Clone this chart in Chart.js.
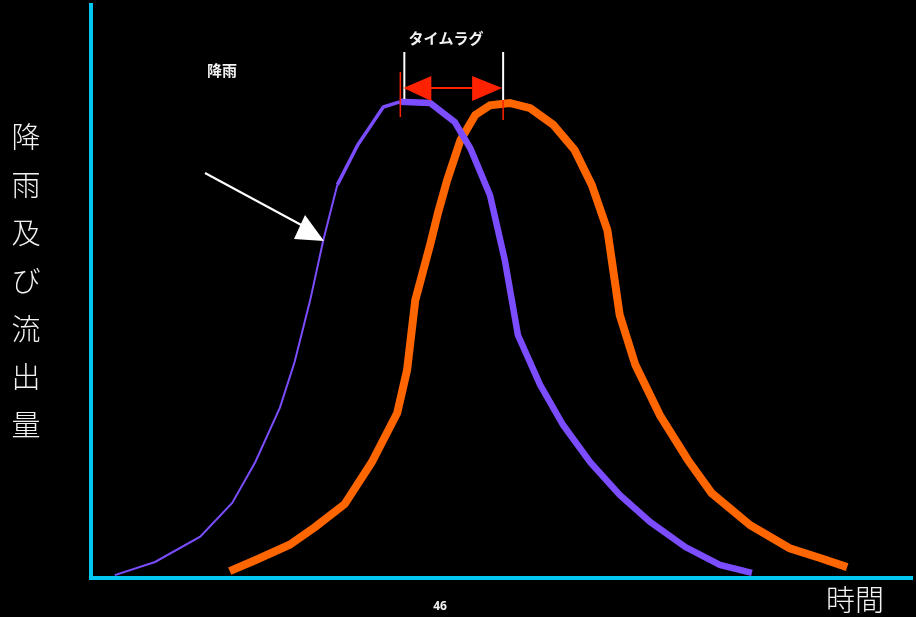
<!DOCTYPE html>
<html>
<head>
<meta charset="utf-8">
<script src="https://cdn.jsdelivr.net/npm/chart.js@4"></script>
<style>
  html, body { margin: 0; padding: 0; background: #000; }
  #wrap { width: 916px; height: 617px; }
</style>
</head>
<body>
<div id="wrap"><canvas id="chart"></canvas></div>
<script>
// Rainfall curve (time, amount)
const rainTime = [2.9, 7.8, 13.3, 17.2, 20.0, 23.0, 24.8, 26.7, 28.3, 30.0, 32.5, 35.6, 37.6, 41.3, 44.3, 46.2, 48.6, 50.4, 52.0, 54.7, 57.5, 60.8, 64.4, 68.1, 72.4, 76.6, 80.5];
const rainAmount = [0.5, 2.8, 7.2, 13.1, 20.2, 29.7, 37.7, 48.5, 59.0, 68.6, 75.6, 82.2, 83.1, 82.9, 79.6, 75.0, 66.8, 55.5, 42.4, 33.7, 26.7, 20.2, 14.5, 9.8, 5.4, 2.3, 0.9];

// Runoff curve (time, amount)
const flowTime = [16.9, 20.0, 24.2, 27.3, 30.9, 34.2, 37.3, 38.5, 39.5, 41.3, 42.3, 43.4, 45.0, 46.8, 48.6, 51.0, 53.5, 56.3, 58.9, 61.0, 62.9, 64.4, 66.3, 69.3, 72.7, 75.6, 80.3, 85.1, 88.8, 92.1];
const flowAmount = [1.2, 3.1, 5.8, 8.9, 12.9, 20.2, 28.8, 36.3, 48.5, 58.1, 63.9, 69.5, 76.4, 80.8, 82.5, 82.9, 82.0, 79.1, 74.7, 68.6, 60.7, 45.9, 37.2, 28.4, 20.6, 14.8, 9.2, 5.2, 3.5, 1.9];

// Peak times used for the time lag marker
const rainPeak = 37.8;
const flowPeak = 50.2;

const CYAN = '#00c8f0';

const toPoints = (xs, ys) => xs.map((x, i) => ({ x: x, y: ys[i] }));

// Text and arrows drawn on top of the chart
const decorations = {
    id: 'decorations',
    afterDatasetsDraw(chart) {
        const ctx = chart.ctx;
        const xs = chart.scales.x;
        const x1 = xs.getPixelForValue(rainPeak);
        const x2 = xs.getPixelForValue(flowPeak);
        const ay = 88;
        ctx.save();

        // white markers at the peaks
        ctx.strokeStyle = '#fff';
        ctx.lineWidth = 2;
        ctx.beginPath();
        ctx.moveTo(x1 + 3, 52); ctx.lineTo(x1 + 3, 99);
        ctx.moveTo(x2, 52); ctx.lineTo(x2, 100);
        ctx.stroke();
        ctx.strokeStyle = '#ff2200';
        ctx.lineWidth = 1.5;
        ctx.beginPath();
        ctx.moveTo(x1 - 1, 72); ctx.lineTo(x1 - 1, 117);
        ctx.moveTo(x2, 100); ctx.lineTo(x2, 120);
        ctx.stroke();

        // red double arrow
        ctx.strokeStyle = '#ff2200';
        ctx.fillStyle = '#ff2200';
        ctx.lineWidth = 2;
        ctx.beginPath();
        ctx.moveTo(x1 + 20, ay); ctx.lineTo(x2 - 20, ay);
        ctx.stroke();
        ctx.beginPath();
        ctx.moveTo(x1 + 2, ay); ctx.lineTo(x1 + 30, ay - 12); ctx.lineTo(x1 + 30, ay + 13); ctx.closePath();
        ctx.fill();
        ctx.beginPath();
        ctx.moveTo(x2 - 1, ay); ctx.lineTo(x2 - 31, ay - 12); ctx.lineTo(x2 - 31, ay + 13); ctx.closePath();
        ctx.fill();

        // white arrow pointing at the rainfall curve
        ctx.strokeStyle = '#fff';
        ctx.fillStyle = '#fff';
        ctx.lineWidth = 2;
        ctx.beginPath();
        ctx.moveTo(205, 173); ctx.lineTo(305, 227);
        ctx.stroke();
        ctx.beginPath();
        ctx.moveTo(324, 241); ctx.lineTo(294, 239); ctx.lineTo(305, 215); ctx.closePath();
        ctx.fill();

        // labels
        ctx.fillStyle = '#f2f2f2';
        ctx.textAlign = 'center';
        ctx.textBaseline = 'middle';
        ctx.font = 'bold 15px "Noto Sans CJK JP"';
        ctx.fillText('降雨', 222, 70);
        ctx.fillText('タイムラグ', 446, 38);

        ctx.font = '300 29px "Noto Sans CJK JP"';
        const yLabel = '降雨及び流出量';
        for (let i = 0; i < yLabel.length; i++) {
            ctx.fillText(yLabel[i], 26, 137 + i * 48);
        }
        ctx.fillText('時間', 855, 600);

        ctx.font = 'bold 12px "Noto Sans"';
        ctx.fillText('46', 440, 607);
        ctx.restore();
    }
};

new Chart(document.getElementById('chart'), {
    type: 'line',
    data: {
        datasets: [
            {
                label: '降雨',
                data: toPoints(rainTime, rainAmount),
                borderColor: '#7b4dff',
                borderWidth: 6,
                pointRadius: 0,
                tension: 0,
                segment: {
                    borderWidth: c => {
                        const i = c.p0DataIndex;
                        if (i < 9) return 2;
                        if (i < 12) return 3.5;
                        return 6.5;
                    }
                }
            },
            {
                label: '流出',
                data: toPoints(flowTime, flowAmount),
                borderColor: '#ff6600',
                borderWidth: 8,
                pointRadius: 0,
                tension: 0
            }
        ]
    },
    options: {
        responsive: true,
        maintainAspectRatio: false,
        animation: false,
        layout: { padding: { left: 91, right: 4, top: 5, bottom: 39 } },
        plugins: {
            legend: { display: false },
            tooltip: { enabled: false }
        },
        scales: {
            x: {
                type: 'linear',
                min: 0,
                max: 100,
                grid: { display: false, drawTicks: false },
                ticks: { display: false },
                border: { color: CYAN, width: 4 }
            },
            y: {
                min: 0,
                max: 100,
                grid: { display: false, drawTicks: false },
                ticks: { display: false },
                border: { color: CYAN, width: 4 }
            }
        }
    },
    plugins: [decorations]
});
</script>
</body>
</html>
